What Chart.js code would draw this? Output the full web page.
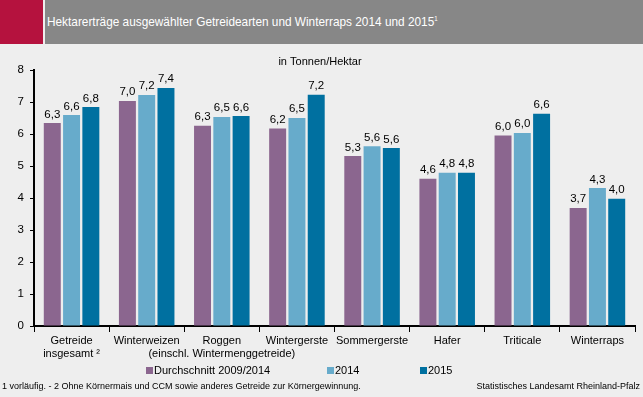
<!DOCTYPE html>
<html>
<head>
<meta charset="utf-8">
<script src="https://cdn.jsdelivr.net/npm/chart.js@4/dist/chart.umd.min.js"></script>
<style>
  html, body { margin: 0; padding: 0; background: #eeeeee; }
  #wrap { position: relative; width: 643px; height: 397px; overflow: hidden; font-family: "Liberation Sans", Arial, sans-serif; }
  #red { position: absolute; left: 0; top: 0; width: 43px; height: 44px; background: #b5123e; }
  #head { position: absolute; left: 45px; top: 0; width: 598px; height: 44px; background: #878787; }
  #title { position: absolute; left: 47px; top: 14px; color: #fff; font-family: "Liberation Sans Narrow", "Arial Narrow", "Liberation Sans", sans-serif; font-size: 13.5px; white-space: nowrap; transform: scaleX(0.876); transform-origin: left top; }
  #title sup { font-size: 7px; }
  canvas { position: absolute; left: 0; top: 0; }
  .foot { position: absolute; top: 381px; font-size: 9px; color: #000; white-space: nowrap; }
</style>
</head>
<body>
<div id="wrap">
  <canvas id="c" width="643" height="397"></canvas>
  <div id="red"></div>
  <div id="head"></div>
  <div id="title">Hektarerträge ausgewählter Getreidearten und Winterraps 2014 und 2015<sup>1</sup></div>
  <div class="foot" style="left:2px">1 vorläufig. - 2 Ohne Körnermais und CCM sowie anderes Getreide zur Körnergewinnung.</div>
  <div class="foot" style="right:3px">Statistisches Landesamt Rheinland-Pfalz</div>
</div>
<script>
const categories = [
  ['Getreide', 'insgesamt ²'],
  'Winterweizen',
  ['Roggen', '(einschl. Wintermenggetreide)'],
  'Wintergerste',
  'Sommergerste',
  'Hafer',
  'Triticale',
  'Winterraps'
]
const seriesNames = ['Durchschnitt 2009/2014', '2014', '2015']
const avg0914 = [6.34, 7.03, 6.26, 6.17, 5.31, 4.6, 5.95, 3.69]
const y2014 = [6.59, 7.22, 6.53, 6.5, 5.62, 4.79, 6.03, 4.31]
const y2015 = [6.84, 7.44, 6.56, 7.23, 5.56, 4.79, 6.63, 3.98]
const colors = ['#8b668f', '#67abcb', '#0070a0']

const font = '"Liberation Sans", Arial, sans-serif'

const valueLabels = {
  id: 'valueLabels',
  afterDatasetsDraw(chart) {
    const ctx = chart.ctx
    ctx.save()
    ctx.font = '11.5px ' + font
    ctx.fillStyle = '#000'
    ctx.textAlign = 'center'
    ctx.textBaseline = 'bottom'
    chart.data.datasets.forEach((ds, i) => {
      chart.getDatasetMeta(i).data.forEach((bar, j) => {
        const txt = ds.data[j].toFixed(1).replace('.', ',')
        ctx.fillText(txt, bar.x, bar.y - 3)
      })
    })
    // subtitle
    ctx.font = '11px ' + font
    ctx.textBaseline = 'middle'
    ctx.fillText('in Tonnen/Hektar', 320, 62)
    // legend
    ctx.font = '11px ' + font
    ctx.textAlign = 'left'
    const legendX = [146, 327, 420]
    seriesNames.forEach((name, i) => {
      ctx.fillStyle = colors[i]
      ctx.fillRect(legendX[i], 367, 7, 7)
      ctx.fillStyle = '#000'
      ctx.fillText(name, legendX[i] + 8, 371)
    })
    ctx.restore()
  }
}

new Chart(document.getElementById('c'), {
  type: 'bar',
  data: {
    labels: categories,
    datasets: [
      { label: seriesNames[0], data: avg0914, backgroundColor: colors[0] },
      { label: seriesNames[1], data: y2014, backgroundColor: colors[1] },
      { label: seriesNames[2], data: y2015, backgroundColor: colors[2] },
    ],
  },
  options: {
    responsive: false,
    animation: false,
    datasets: { bar: { categoryPercentage: 0.77, barPercentage: 0.88 } },
    layout: { padding: { left: 0, right: 8, top: 70, bottom: 31 } },
    plugins: { legend: { display: false }, tooltip: { enabled: false } },
    scales: {
      x: {
        grid: { drawOnChartArea: false, drawTicks: true, tickLength: 6, color: '#000', offset: true },
        border: { color: '#000', width: 2 },
        ticks: { color: '#000', font: { family: font, size: 11 }, padding: 2, maxRotation: 0, autoSkip: false },
        afterFit: (s) => { s.height = 40 },
      },
      y: {
        min: 0,
        max: 8,
        grid: { drawOnChartArea: false, drawTicks: true, tickLength: 4, color: '#000' },
        border: { color: '#000', width: 2 },
        ticks: { stepSize: 1, color: '#000', font: { family: font, size: 11.5 }, padding: 6 },
        afterFit: (s) => { s.width = 34 },
      },
    },
  },
  plugins: [valueLabels],
})
</script>
</body>
</html>
